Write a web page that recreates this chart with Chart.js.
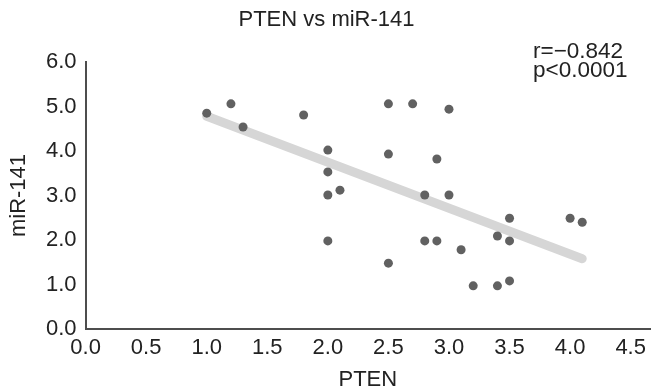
<!DOCTYPE html>
<html lang="en">
<head>
    <meta charset="UTF-8">
    <title>PTEN vs miR-141</title>
    <style>
        body {
            margin: 0;
            padding: 0;
            background-color: #ffffff;
        }

        .wrap {
            width: 654px;
            height: 391px;
            position: relative;
        }
    </style>
</head>
<body>
    <div class="wrap">
        <canvas id="scatterChart"></canvas>
    </div>

    <script src="https://cdn.jsdelivr.net/npm/chart.js"></script>
    <script>
        // PTEN (x) and miR-141 (y) for each sample
        const ptenValues = [1.0, 1.2, 1.3, 1.8, 2.0, 2.0, 2.1, 2.0, 2.0, 2.5, 2.7, 3.0, 2.5, 2.9,
                            2.8, 3.0, 2.8, 2.9, 3.1, 2.5, 3.2, 3.4, 3.5, 3.4, 3.5, 3.5, 4.0, 4.1];
        const mirValues = [4.85, 5.06, 4.54, 4.81, 4.02, 3.53, 3.12, 3.01, 1.98, 5.06, 5.06, 4.94, 3.93, 3.82,
                           3.01, 3.01, 1.98, 1.98, 1.78, 1.48, 0.97, 0.97, 1.08, 2.09, 1.98, 2.49, 2.49, 2.40];

        // fitted regression line ends
        const fitX = [1.0, 4.1];
        const fitY = [4.78, 1.58];

        const xTicks = [0, 0.5, 1, 1.5, 2, 2.5, 3, 3.5, 4, 4.5];
        const yTicks = [0, 1, 2, 3, 4, 5, 6];

        const statLines = ['r=\u22120.842', 'p<0.0001'];

        const fontFamily = "'Liberation Sans', Arial, Helvetica, sans-serif";
        const textColor = '#222222';

        const statsText = {
            id: 'statsText',
            afterDraw(chart) {
                const ctx = chart.ctx;
                const area = chart.chartArea;
                ctx.save();
                ctx.font = '22.5px ' + fontFamily;
                ctx.fillStyle = textColor;
                ctx.textAlign = 'left';
                ctx.textBaseline = 'middle';
                ctx.fillText(statLines[0], area.right - 117, area.top - 10.5);
                ctx.fillText(statLines[1], area.right - 117, area.top + 8.5);
                ctx.restore();
            }
        };

        const points = ptenValues.map((x, i) => ({ x: x, y: mirValues[i] }));
        const fitLine = fitX.map((x, i) => ({ x: x, y: fitY[i] }));

        new Chart(document.getElementById('scatterChart'), {
            type: 'scatter',
            data: {
                datasets: [{
                    label: 'samples',
                    data: points,
                    backgroundColor: '#616161',
                    borderColor: '#616161',
                    pointRadius: 4.5,
                    pointBorderWidth: 0,
                    order: 0
                }, {
                    label: 'fit',
                    data: fitLine,
                    showLine: true,
                    pointRadius: 0,
                    borderColor: '#d6d6d6',
                    borderWidth: 9,
                    borderCapStyle: 'round',
                    order: 1
                }]
            },
            options: {
                responsive: true,
                maintainAspectRatio: false,
                animation: false,
                layout: {
                    autoPadding: false,
                    padding: { top: 0, right: 1, bottom: 0, left: 0 }
                },
                scales: {
                    x: {
                        type: 'linear',
                        min: 0,
                        max: 4.66,
                        afterBuildTicks: (scale) => {
                            scale.ticks = xTicks.map(v => ({ value: v }));
                        },
                        ticks: {
                            color: textColor,
                            font: { family: fontFamily, size: 22, lineHeight: 1 },
                            padding: 8,
                            maxRotation: 0,
                            callback: (v) => Number(v).toFixed(1)
                        },
                        grid: { display: false, drawTicks: false },
                        border: { display: true, color: '#4d4d4d', width: 2 },
                        title: {
                            display: true,
                            text: 'PTEN',
                            color: textColor,
                            font: { family: fontFamily, size: 22, lineHeight: 1 },
                            padding: { top: 2, bottom: 0 }
                        }
                    },
                    y: {
                        min: 0,
                        max: 6,
                        afterBuildTicks: (scale) => {
                            scale.ticks = yTicks.map(v => ({ value: v }));
                        },
                        ticks: {
                            color: textColor,
                            font: { family: fontFamily, size: 22, lineHeight: 1 },
                            padding: 9,
                            callback: (v) => Number(v).toFixed(1)
                        },
                        grid: { display: false, drawTicks: false },
                        border: { display: true, color: '#4d4d4d', width: 2 },
                        title: {
                            display: true,
                            text: 'miR-141',
                            color: textColor,
                            font: { family: fontFamily, size: 22, lineHeight: 1 },
                            padding: { top: 8, bottom: 7 }
                        }
                    }
                },
                plugins: {
                    legend: { display: false },
                    tooltip: { enabled: false },
                    title: {
                        display: true,
                        text: 'PTEN vs miR-141',
                        color: textColor,
                        font: { family: fontFamily, size: 22, weight: 'normal' },
                        padding: { top: 7, bottom: 28.6 }
                    }
                }
            },
            plugins: [statsText]
        });
    </script>
</body>
</html>
